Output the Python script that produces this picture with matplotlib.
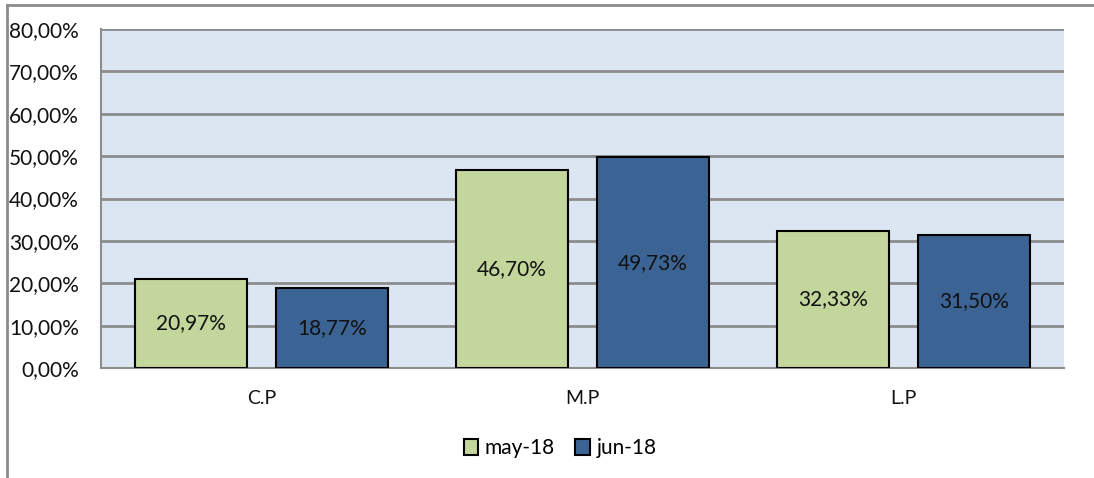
import matplotlib.pyplot as plt
import matplotlib.lines as mlines
import numpy as np

categories = ['C.P', 'M.P', 'L.P']
may_18 = [20.97, 46.70, 32.33]
jun_18 = [18.77, 49.73, 31.50]
series_names = ['may-18', 'jun-18']

plt.rcParams['font.family'] = ['Lato', 'DejaVu Sans']

fig = plt.figure(figsize=(10.94, 4.78), dpi=100)
ax = fig.add_axes([101 / 1094, 1 - 368 / 478, 963 / 1094, 339 / 478])
ax.set_facecolor('#DCE6F2')

x = np.arange(len(categories))
w = 0.35
off = 0.22
b1 = ax.bar(x - off, may_18, w, color='#C3D69B', edgecolor='black', linewidth=1.5, label=series_names[0], zorder=3)
b2 = ax.bar(x + off, jun_18, w, color='#3B6494', edgecolor='black', linewidth=1.5, label=series_names[1], zorder=3)

for bars, vals in ((b1, may_18), (b2, jun_18)):
    for r, v in zip(bars, vals):
        ax.text(r.get_x() + r.get_width() / 2, v / 2, f'{v:.2f}%'.replace('.', ','),
                ha='center', va='center', fontsize=15, color='#111111', zorder=4)

ax.set_xlim(-0.5, len(categories) - 0.5)
ax.set_ylim(0, 80)
ax.set_yticks(np.arange(0, 81, 10))
ax.set_yticklabels([f'{t:.2f}%'.replace('.', ',') for t in np.arange(0, 81, 10)], fontsize=15, color='#111111')
ax.set_xticks(x)
ax.set_xticklabels(categories, fontsize=14, color='#111111')
ax.tick_params(axis='x', length=0, pad=16)
ax.tick_params(axis='y', length=0, pad=16)
ax.yaxis.grid(True, color='#8c8c8c', linewidth=2, zorder=1)
ax.set_axisbelow(True)
for s in ['top', 'right']:
    ax.spines[s].set_visible(False)
for s in ['left', 'bottom']:
    ax.spines[s].set_color('#8c8c8c')
    ax.spines[s].set_linewidth(1.5)

leg = fig.legend(handles=[b1, b2], loc='center', bbox_to_anchor=(560 / 1094, 1 - 448 / 478),
                 ncol=2, frameon=False, fontsize=15, handlelength=0.7, handleheight=0.8,
                 handletextpad=0.3, columnspacing=1.0)

# outer chart frame (partly cropped in the original)
fig.add_artist(mlines.Line2D([7 / 1094, 7 / 1094], [0, 1 - 5 / 478], color='#8c8c8c', linewidth=2))
fig.add_artist(mlines.Line2D([7 / 1094, 1], [1 - 5 / 478, 1 - 5 / 478], color='#8c8c8c', linewidth=2))

fig.savefig('out.png', dpi=100)
